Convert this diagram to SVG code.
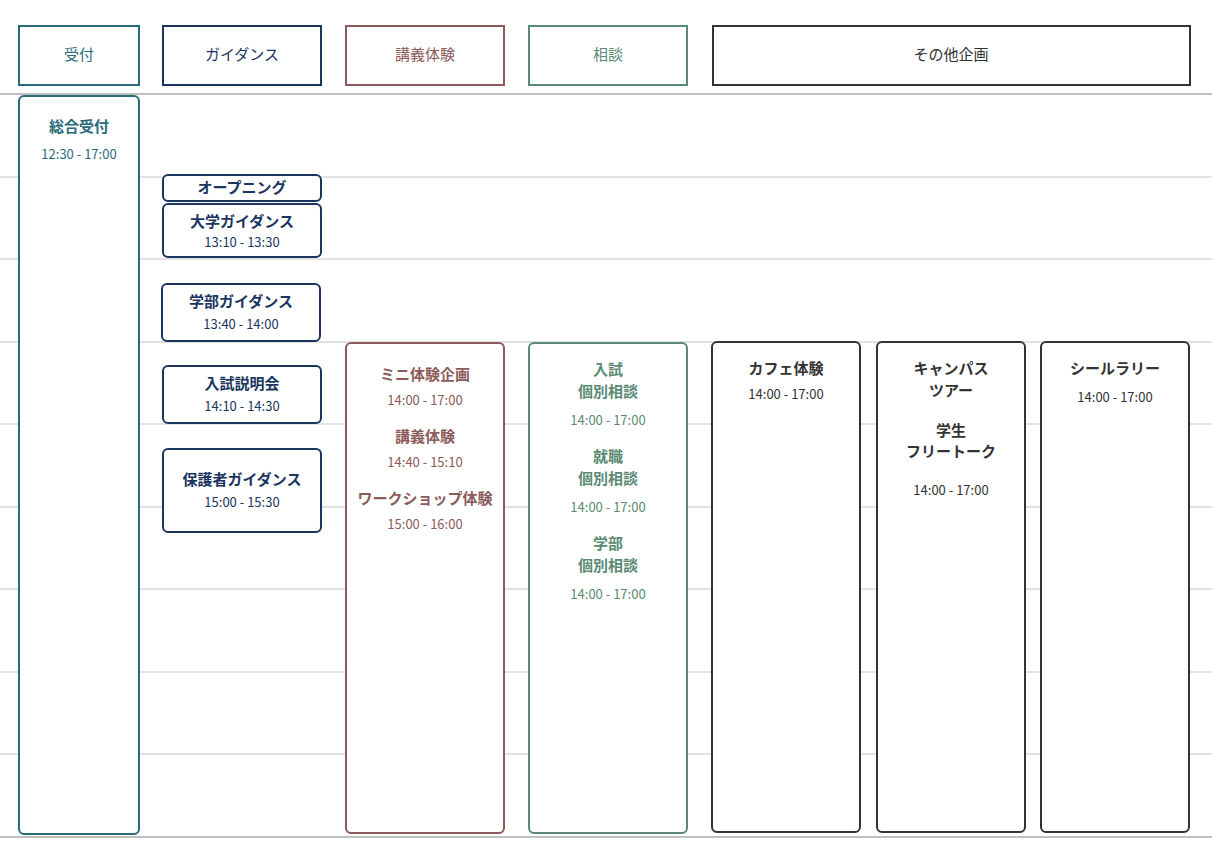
<svg xmlns="http://www.w3.org/2000/svg" width="1220" height="866" viewBox="0 0 1220 866">
<style>
text{font-family:"Noto Sans CJK JP","Noto Sans",sans-serif;text-anchor:middle}
.h{font-size:15px}
.b{font-size:15px;font-weight:bold}
.t{font-size:13px}
.box{fill:#fff;stroke-width:2}
.teal{stroke:#2a6b7a;fill:#2a6b7a}
.navy{stroke:#1a3560;fill:#1a3560}
.mar{stroke:#8c5a5a;fill:#8c5a5a}
.grn{stroke:#5a8a74;fill:#5a8a74}
.dk{stroke:#333;fill:#333}
text{stroke:none}
</style>
<rect width="1220" height="866" fill="#fff"/>
<g id="grid" stroke="#d8d8d8" stroke-width="1.5">
<line x1="0" y1="94" x2="1212" y2="94" stroke="#aaa"/>
<line x1="0" y1="177" x2="1212" y2="177"/>
<line x1="0" y1="259" x2="1212" y2="259"/>
<line x1="0" y1="342" x2="1212" y2="342"/>
<line x1="0" y1="424" x2="1212" y2="424"/>
<line x1="0" y1="507" x2="1212" y2="507"/>
<line x1="0" y1="589" x2="1212" y2="589"/>
<line x1="0" y1="672" x2="1212" y2="672"/>
<line x1="0" y1="754" x2="1212" y2="754"/>
<line x1="0" y1="837" x2="1212" y2="837" stroke="#aaa"/>
</g>
<g id="headers">
<g id="h-uketsuke"><rect x="19" y="26" width="120" height="59" fill="#fff" stroke="#2a6b7a" stroke-width="2"/><text x="79" y="60" class="h" fill="#2a6b7a">受付</text></g>
<g id="h-guidance"><rect x="163" y="26" width="158" height="59" fill="#fff" stroke="#1a3560" stroke-width="2"/><text x="242" y="60" class="h" fill="#1a3560">ガイダンス</text></g>
<g id="h-kogi"><rect x="346" y="26" width="158" height="59" fill="#fff" stroke="#8c5a5a" stroke-width="2"/><text x="425" y="60" class="h" fill="#8c5a5a">講義体験</text></g>
<g id="h-sodan"><rect x="529" y="26" width="158" height="59" fill="#fff" stroke="#5a8a74" stroke-width="2"/><text x="608" y="60" class="h" fill="#5a8a74">相談</text></g>
<g id="h-other"><rect x="713" y="26" width="477" height="59" fill="#fff" stroke="#333" stroke-width="2"/><text x="951" y="60" class="h" fill="#333">その他企画</text></g>
</g>
<g id="n-sogo"><rect x="19" y="96" width="120" height="738" rx="5" fill="#fff" stroke="#2a6b7a" stroke-width="2"/><text x="79" y="132" class="b" fill="#2a6b7a">総合受付</text><text x="79" y="159" class="t" fill="#2a6b7a">12:30 - 17:00</text></g>
<g id="n-open"><rect x="163" y="175" width="158" height="26" rx="5" fill="#fff" stroke="#1a3560" stroke-width="2"/><text x="242" y="193" class="b" fill="#1a3560">オープニング</text></g>
<g id="n-daigaku"><rect x="163" y="204" width="158" height="53" rx="5" fill="#fff" stroke="#1a3560" stroke-width="2"/><text x="242" y="227" class="b" fill="#1a3560">大学ガイダンス</text><text x="242" y="247" class="t" fill="#1a3560">13:10 - 13:30</text></g>
<g id="n-gakubu"><rect x="162" y="284" width="158" height="57" rx="5" fill="#fff" stroke="#1a3560" stroke-width="2"/><text x="241" y="307" class="b" fill="#1a3560">学部ガイダンス</text><text x="241" y="329" class="t" fill="#1a3560">13:40 - 14:00</text></g>
<g id="n-nyushi"><rect x="163" y="366" width="158" height="57" rx="5" fill="#fff" stroke="#1a3560" stroke-width="2"/><text x="242" y="389" class="b" fill="#1a3560">入試説明会</text><text x="242" y="411" class="t" fill="#1a3560">14:10 - 14:30</text></g>
<g id="n-hogosha"><rect x="163" y="449" width="158" height="83" rx="5" fill="#fff" stroke="#1a3560" stroke-width="2"/><text x="242" y="485" class="b" fill="#1a3560">保護者ガイダンス</text><text x="242" y="507" class="t" fill="#1a3560">15:00 - 15:30</text></g>
<g id="n-kogi"><rect x="346" y="343" width="158" height="490" rx="5" fill="#fff" stroke="#8c5a5a" stroke-width="2"/>
<text x="425" y="380" class="b" fill="#8c5a5a">ミニ体験企画</text><text x="425" y="405" class="t" fill="#8c5a5a">14:00 - 17:00</text>
<text x="425" y="442" class="b" fill="#8c5a5a">講義体験</text><text x="425" y="467" class="t" fill="#8c5a5a">14:40 - 15:10</text>
<text x="425" y="504" class="b" fill="#8c5a5a">ワークショップ体験</text><text x="425" y="529" class="t" fill="#8c5a5a">15:00 - 16:00</text></g>
<g id="n-sodan"><rect x="529" y="343" width="158" height="490" rx="5" fill="#fff" stroke="#5a8a74" stroke-width="2"/>
<text x="608" y="375" class="b" fill="#5a8a74">入試</text><text x="608" y="397" class="b" fill="#5a8a74">個別相談</text><text x="608" y="425" class="t" fill="#5a8a74">14:00 - 17:00</text>
<text x="608" y="462" class="b" fill="#5a8a74">就職</text><text x="608" y="484" class="b" fill="#5a8a74">個別相談</text><text x="608" y="512" class="t" fill="#5a8a74">14:00 - 17:00</text>
<text x="608" y="549" class="b" fill="#5a8a74">学部</text><text x="608" y="571" class="b" fill="#5a8a74">個別相談</text><text x="608" y="599" class="t" fill="#5a8a74">14:00 - 17:00</text></g>
<g id="n-cafe"><rect x="712" y="342" width="148" height="490" rx="5" fill="#fff" stroke="#333" stroke-width="2"/><text x="786" y="374" class="b" fill="#333">カフェ体験</text><text x="786" y="399" class="t" fill="#333">14:00 - 17:00</text></g>
<g id="n-campus"><rect x="877" y="342" width="148" height="490" rx="5" fill="#fff" stroke="#333" stroke-width="2"/>
<text x="951" y="374" class="b" fill="#333">キャンパス</text><text x="951" y="396" class="b" fill="#333">ツアー</text>
<text x="951" y="436" class="b" fill="#333">学生</text><text x="951" y="457" class="b" fill="#333">フリートーク</text>
<text x="951" y="495" class="t" fill="#333">14:00 - 17:00</text></g>
<g id="n-seal"><rect x="1041" y="342" width="148" height="490" rx="5" fill="#fff" stroke="#333" stroke-width="2"/><text x="1115" y="374" class="b" fill="#333">シールラリー</text><text x="1115" y="402" class="t" fill="#333">14:00 - 17:00</text></g>
<g id="connectors"/>
</svg>
